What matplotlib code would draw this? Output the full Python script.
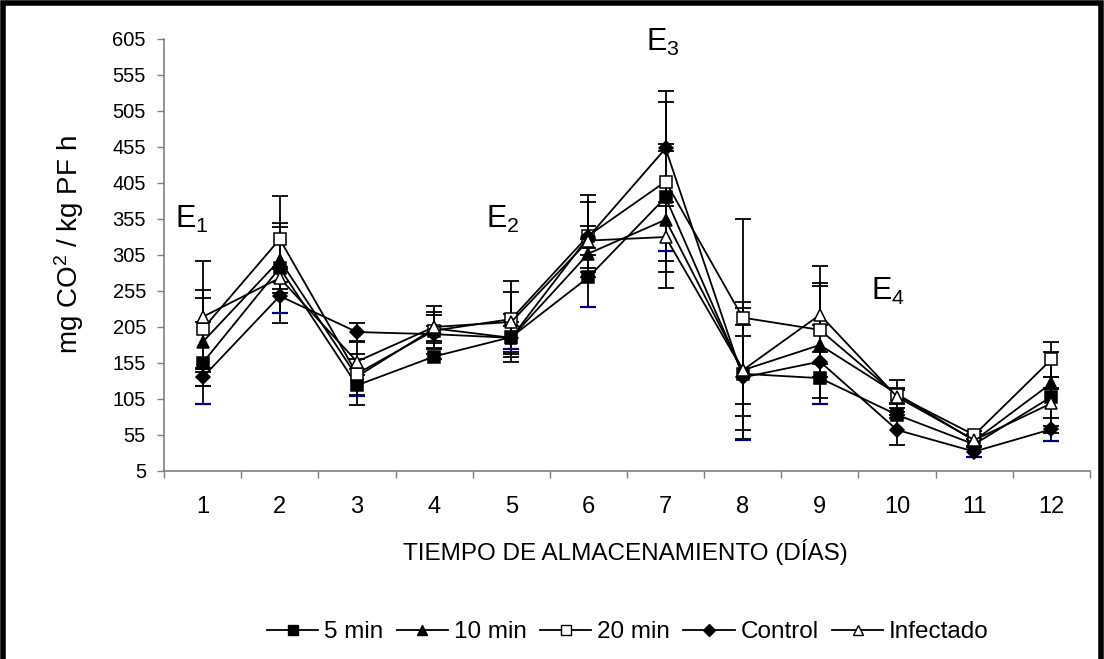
import matplotlib
matplotlib.use("Agg")
import matplotlib.pyplot as plt
from matplotlib.lines import Line2D
from matplotlib.patches import Rectangle
import numpy as np

plt.rcParams['font.family'] = ['Liberation Sans', 'DejaVu Sans']
plt.rcParams['mathtext.fontset'] = 'custom'
plt.rcParams['mathtext.rm'] = 'Liberation Sans'
plt.rcParams['mathtext.it'] = 'Liberation Sans'

days = list(range(1, 13))
day_labels = [str(d) for d in days]
y_ticks = list(range(5, 606, 50))

# Respiration rate (mg CO2 / kg PF h) per treatment and its error
min5 = [155, 287, 124, 164, 191, 274, 385, 140, 134, 83, 42, 108]
min5_err = [57, 63, 15, 3, 16, 41, 74, 92, 36, 4, 18, 62]
min10 = [184, 298, 136, 203, 190, 307, 354, 145, 180, 112, 47, 127]
min10_err = [61, 46, 25, 18, 33, 20, 95, 95, 82, 19, 8, 8]
min20 = [202, 327, 140, 200, 216, 332, 407, 218, 201, 110, 55, 160]
min20_err = [54, 60, 44, 26, 53, 57, 110, 137, 65, 10, 6, 24]
control = [135, 248, 198, 195, 190, 330, 453, 135, 157, 62, 32, 63]
control_err = [12, 37, 13, 12, 22, 48, 80, 73, 51, 21, 8, 5]
infectado = [219, 273, 157, 205, 212, 325, 330, 145, 222, 108, 48, 99]
infectado_err = [77, 15, 10, 29, 42, 20, 49, 47, 68, 10, 8, 21]

series = [
    ("5 min", min5, min5_err, dict(marker='s', mfc='black', ms=8)),
    ("10 min", min10, min10_err, dict(marker='^', mfc='black', ms=8.5)),
    ("20 min", min20, min20_err, dict(marker='s', mfc='white', ms=8)),
    ("Control", control, control_err, dict(marker='D', mfc='black', ms=7)),
    ("Infectado", infectado, infectado_err, dict(marker='^', mfc='white', ms=8.5)),
]

W, H = 1104, 659
fig = plt.figure(figsize=(W / 100, H / 100), dpi=100)
ax = fig.add_axes([164 / W, 1 - 471 / H, (1090 - 164) / W, (471 - 39) / H])

x = np.array(days)
handles = []
for name, vals, errs, style in series:
    ax.errorbar(x, vals, yerr=errs, fmt='none', ecolor='black', elinewidth=1.3,
                capsize=6, capthick=1.3, zorder=2)
    ax.plot(x, vals, color='black', lw=1.3, mec='black', mew=1.1, zorder=3, **style)
    handles.append(Line2D([], [], color='black', lw=1.3, mec='black', mew=1.0,
                          marker=style['marker'], mfc=style['mfc'],
                          ms=style['ms'] * 0.85, label=name))

# lower caps of the 5 min series are dark blue
low5 = np.array(min5) - np.array(min5_err)
ax.plot(x, low5, ls='none', marker='_', ms=12, mew=1.6, color='#000080', zorder=2.5)

ax.set_xlim(0.5, 12.5)
ax.set_ylim(5, 605)
ax.set_yticks(y_ticks)
ax.set_yticklabels([str(v) for v in y_ticks], fontsize=14.5)
ax.set_xticks(np.arange(0.5, 13, 1))
ax.set_xticklabels([])
ax.set_xticks(x, minor=True)
ax.set_xticklabels(day_labels, minor=True, fontsize=17)
ax.tick_params(axis='x', which='major', length=5, width=1, color='#808080', direction='out')
ax.tick_params(axis='x', which='minor', length=0, pad=18)
ax.tick_params(axis='y', length=5, width=1, color='#808080', pad=8)

for s in ('top', 'right'):
    ax.spines[s].set_visible(False)
for s in ('left', 'bottom'):
    ax.spines[s].set_color('#808080')
    ax.spines[s].set_linewidth(1.2)

fig.text(625.5 / W, 1 - 560 / H, 'TIEMPO DE ALMACENAMIENTO (DÍAS)', fontsize=17.5,
         ha='center', va='baseline')
fig.text(69 / W, 1 - 245 / H, r'mg CO$^2$ / kg PF h', fontsize=20, rotation=90,
         ha='center', va='center')

stage_fs = 22
ax.text(0.643, 342.5, r'E$_1$', fontsize=stage_fs, va='baseline', ha='left')
ax.text(4.67, 342.5, r'E$_2$', fontsize=stage_fs, va='baseline', ha='left')
ax.text(6.75, 588, r'E$_3$', fontsize=stage_fs, va='baseline', ha='left')
ax.text(9.66, 242.5, r'E$_4$', fontsize=stage_fs, va='baseline', ha='left')

fig.legend(handles=handles, loc='center', bbox_to_anchor=(628 / W, 1 - 632 / H),
           ncol=5, frameon=False, fontsize=17.5, handlelength=2.1, handletextpad=0.25,
           columnspacing=0.55, borderpad=0)

# outer frame
fig.patches.append(Rectangle((0.003, -0.05), 0.994, 1.046, transform=fig.transFigure,
                             fill=False, edgecolor='black', linewidth=4, zorder=10))

fig.savefig('out.png', dpi=100)
